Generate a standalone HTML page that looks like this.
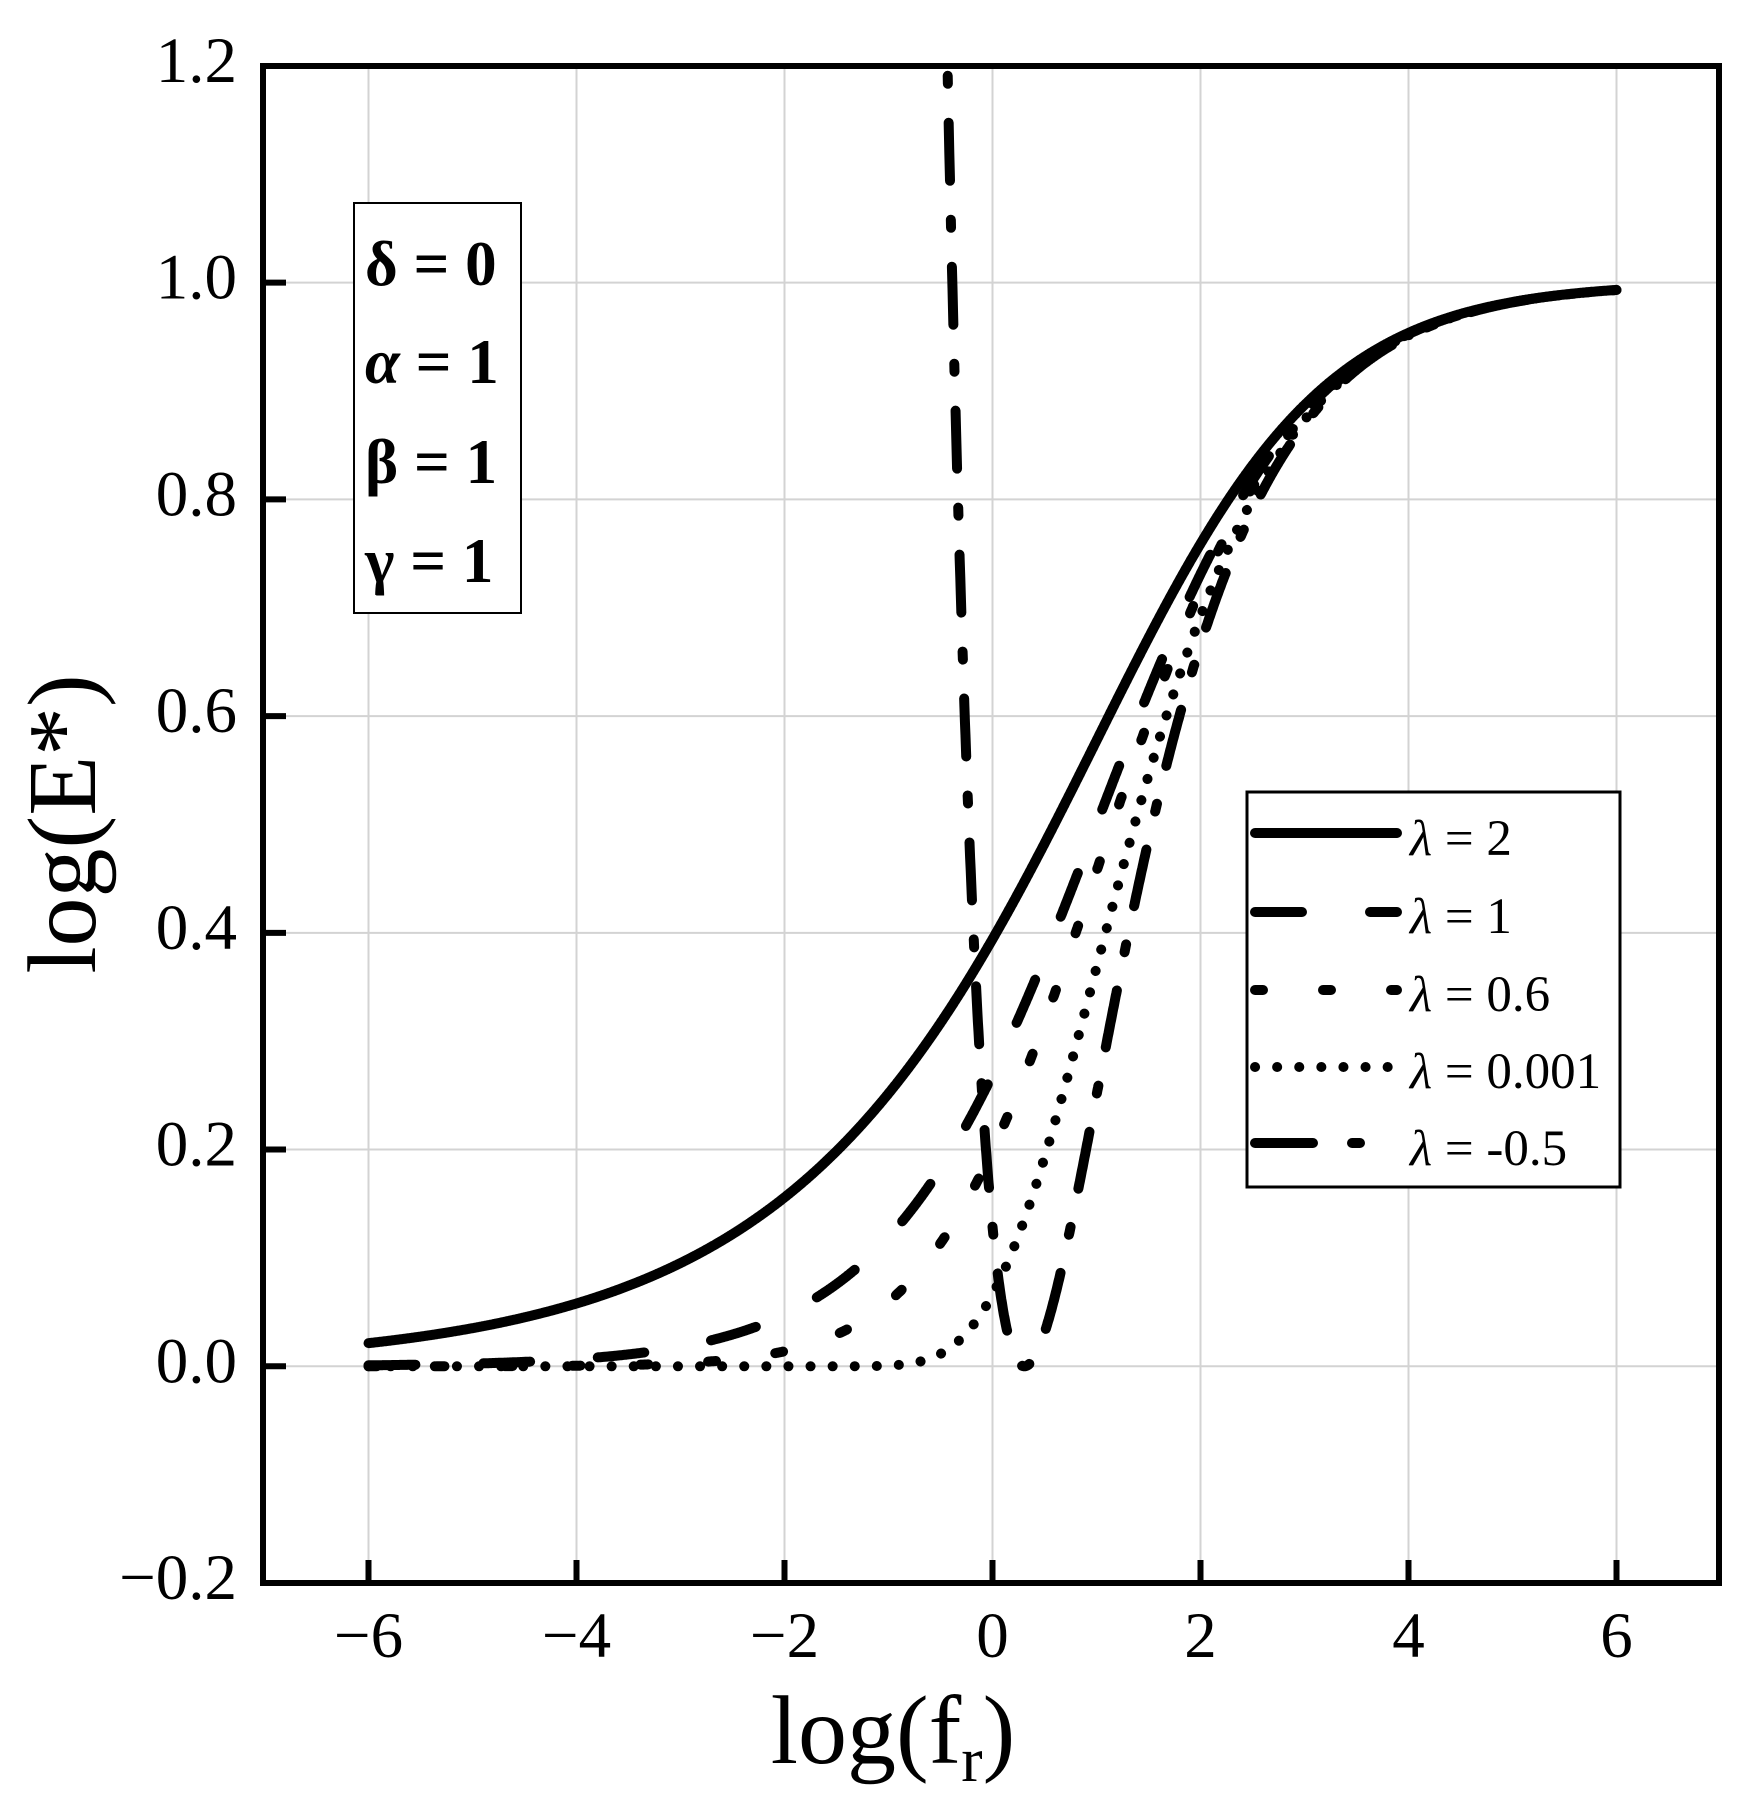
<!DOCTYPE html>
<html><head><meta charset="utf-8"><style>
html,body{margin:0;padding:0;background:#fff;}
svg{display:block;}
text{font-family:"Liberation Serif",serif;fill:#000;}
</style></head><body>
<svg id="s" width="1752" height="1794" viewBox="0 0 1752 1794" xmlns="http://www.w3.org/2000/svg">
<defs><clipPath id="cp"><rect x="266" y="69" width="1450" height="1511"/></clipPath></defs>
<g id="grid" stroke="#d3d3d3" stroke-width="2"></g>
<g id="curves" clip-path="url(#cp)" fill="none" stroke="#000" stroke-width="10" stroke-linecap="round" stroke-linejoin="round"></g>
<rect x="263" y="66" width="1456" height="1517" fill="none" stroke="#000" stroke-width="6"/>
<g id="ticks" stroke="#000" stroke-width="6"></g>
<g id="labels" font-size="65"></g>
<text x="893" y="1763" font-size="98" text-anchor="middle">log(f<tspan font-size="64" dy="18">r</tspan><tspan dy="-18">)</tspan></text>
<text transform="translate(95,824) rotate(-90)" font-size="98" text-anchor="middle">log(E*)</text>
<rect x="354" y="203" width="167" height="410" fill="#fff" stroke="#000" stroke-width="2"/>
<g font-size="63" font-weight="bold">
<text x="365" y="285">δ = 0</text>
<text x="365" y="383"><tspan font-style="italic">α</tspan> = 1</text>
<text x="365" y="483">β = 1</text>
<text x="365" y="582">γ = 1</text>
</g>
<rect x="1247" y="792" width="373" height="395" fill="#fff" stroke="#000" stroke-width="3"/>
<g fill="none" stroke="#000" stroke-width="10" stroke-linecap="round">
<line x1="1255" y1="833" x2="1397" y2="833"/>
<line x1="1255" y1="912" x2="1397" y2="912" stroke-dasharray="47 68"/>
<line x1="1255" y1="990" x2="1397" y2="990" stroke-dasharray="8 60"/>
<line x1="1255" y1="1067" x2="1397" y2="1067" stroke-dasharray="0.1 22"/>
<line x1="1255" y1="1143" x2="1397" y2="1143" stroke-dasharray="58 39 8 200"/>
</g>
<g font-size="51">
<text x="1410" y="855"><tspan font-style="italic">λ</tspan> = 2</text>
<text x="1410" y="933"><tspan font-style="italic">λ</tspan> = 1</text>
<text x="1410" y="1011"><tspan font-style="italic">λ</tspan> = 0.6</text>
<text x="1410" y="1088"><tspan font-style="italic">λ</tspan> = 0.001</text>
<text x="1410" y="1165"><tspan font-style="italic">λ</tspan> = -0.5</text>
</g>
</svg>
<script>
(function(){
var NS="http://www.w3.org/2000/svg";
function X(x){return 992.5+104*x;}
function Y(v){return 1583-(v+0.2)*1083.6;}
function el(p,tag,a,t){var e=document.createElementNS(NS,tag);for(var k in a)e.setAttribute(k,a[k]);if(t!==undefined)e.textContent=t;p.appendChild(e);return e;}
var g=document.getElementById('grid'),tk=document.getElementById('ticks'),lb=document.getElementById('labels');
for(var x=-6;x<=6;x+=2){el(g,'line',{x1:X(x),y1:69,x2:X(x),y2:1580});el(tk,'line',{x1:X(x),y1:1580,x2:X(x),y2:1560});
 el(lb,'text',{x:X(x),y:1657,'text-anchor':'middle'},(x<0?'\u2212':'')+Math.abs(x));}
for(var i=0;i<=7;i++){var v=-0.2+0.2*i;v=Math.round(v*10)/10;el(g,'line',{x1:266,y1:Y(v),x2:1716,y2:Y(v)});el(tk,'line',{x1:266,y1:Y(v),x2:286,y2:Y(v)});
 el(lb,'text',{x:237,y:Y(v)+16,'text-anchor':'end'},(v<0?'\u2212':'')+Math.abs(v).toFixed(1));}
var c=document.getElementById('curves');
function f(l,x){var b=1+l*Math.exp(1-x);if(b<0)return Math.pow(-b,-1/l);return Math.pow(b,-1/l);}
var specs=[[2,null],[1,"47 68"],[0.6,"8 60"],[0.001,"0.1 22"],[-0.5,"58 39 8 39"]];
specs.forEach(function(s){var d="",st=-6;if(s[0]<0)st=-0.5;
 for(var x=st;x<=6.0001;x+=0.005){var v=f(s[0],x);if(v>1.3)continue;d+=(d?"L":"M")+X(x).toFixed(1)+","+Y(v).toFixed(1);}
 var a={d:d};if(s[1])a['stroke-dasharray']=s[1];el(c,'path',a);});
})();
</script>
</body></html>
